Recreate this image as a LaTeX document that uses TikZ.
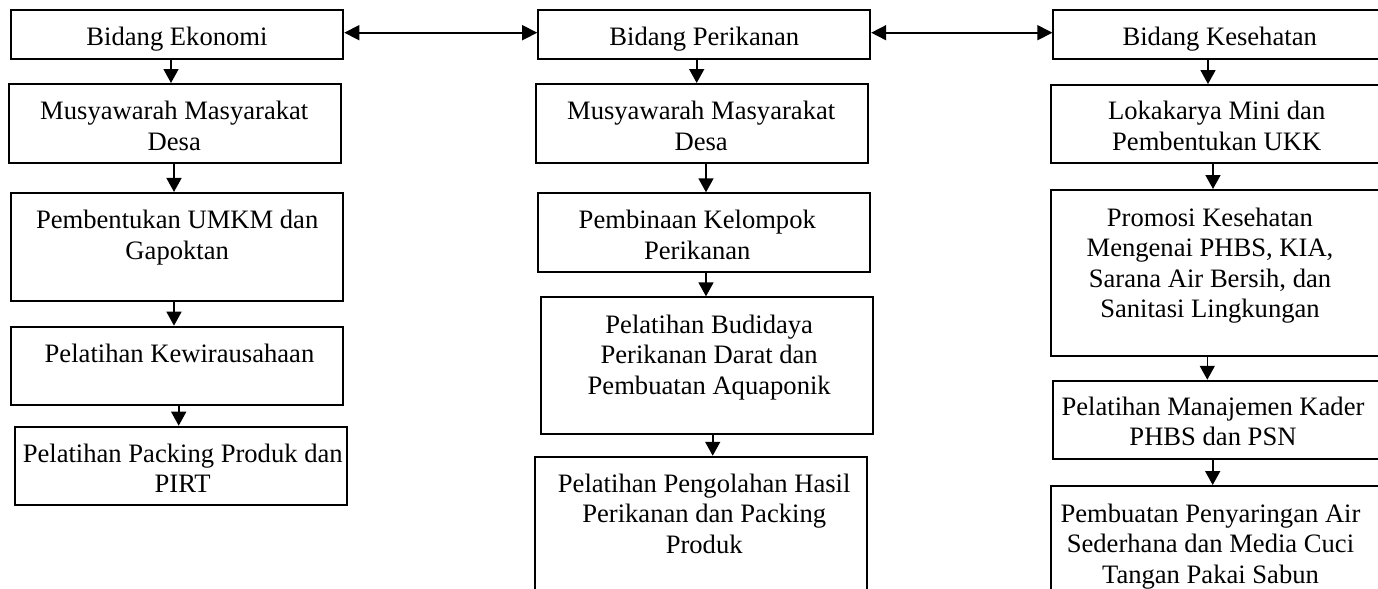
\documentclass[tikz,border=0pt]{standalone}
\usepackage{fontspec}
\setmainfont{Liberation Serif}
\usetikzlibrary{arrows.meta}
\begin{document}
\begin{tikzpicture}[x=0.5pt,y=-0.5pt,
  box/.style={draw=black, line width=1pt, inner sep=0pt, minimum width=166pt},
  txt/.style={anchor=north, inner sep=0pt, align=center, font=\fontsize{13.3}{15.25}\selectfont},
  arr/.style={line width=0.8pt, -{Triangle[length=7pt,width=7.5pt]}},
  darr/.style={line width=0.8pt, {Triangle[length=7.5pt,width=7.5pt]}-{Triangle[length=7.5pt,width=7.5pt]}}]
\useasboundingbox (0,0) rectangle (1378,589);
% left column
\node[box, minimum height=24.5pt] (e1) at (177.3,34.5) {};
\node[box, minimum height=39.5pt] (e2) at (174.7,123.5) {};
\node[box, minimum height=53.85pt] (e3) at (177.3,246.8) {};
\node[box, minimum height=39.15pt] (e4) at (177.3,365.8) {};
\node[box, minimum height=39.3pt] (e5) at (180.5,466) {};
\node[txt] (e1t) at (177,23.65) {\strut Bidang Ekonomi};
\node[txt] (e2t) at (174.3,97.95) {\strut Musyawarah Masyarakat\\Desa};
\node[txt] (e3t) at (177.2,206.95) {\strut Pembentukan UMKM dan\\Gapoktan};
\node[txt] (e4t) at (179.5,340.35) {\strut Pelatihan Kewirausahaan};
\node[txt] (e5t) at (182.7,440.35) {\strut Pelatihan Packing Produk dan\\PIRT};
% middle column
\node[box, minimum height=24.5pt] (p1) at (704.2,34.5) {};
\node[box, minimum height=39.5pt] (p2) at (701.7,123.5) {};
\node[box, minimum height=39.2pt] (p3) at (704.2,232.5) {};
\node[box, minimum height=68.35pt] (p4) at (707.2,365.7) {};
\node[box, minimum height=71.65pt] (p5) at (701.3,528.4) {};
\node[txt] (p1t) at (704.3,23.65) {\strut Bidang Perikanan};
\node[txt] (p2t) at (701.2,97.95) {\strut Musyawarah Masyarakat\\Desa};
\node[txt] (p3t) at (697.3,206.95) {\strut Pembinaan Kelompok\\Perikanan};
\node[txt] (p4t) at (709.2,311.35) {\strut Pelatihan Budidaya\\Perikanan Darat dan\\Pembuatan Aquaponik};
\node[txt] (p5t) at (704.2,470.35) {\strut Pelatihan Pengolahan Hasil\\Perikanan dan Packing\\Produk};
% right column
\node[box, minimum height=24.5pt] (k1) at (1219.4,34.5) {};
\node[box, minimum height=39.15pt] (k2) at (1216.9,124.2) {};
\node[box, minimum height=83pt] (k3) at (1216.9,273) {};
\node[box, minimum height=39.15pt] (k4) at (1219.4,419.9) {};
\node[box, minimum height=57pt] (k5) at (1216.9,543) {};
\node[txt] (k1t) at (1219.7,23.65) {\strut Bidang Kesehatan};
\node[txt] (k2t) at (1216.7,97.95) {\strut Lokakarya Mini dan\\Pembentukan UKK};
\node[txt] (k3t) at (1210,204.65) {\strut Promosi Kesehatan\\Mengenai PHBS, KIA,\\Sarana Air Bersih, dan\\Sanitasi Lingkungan};
\node[txt] (k4t) at (1213,393.65) {\strut Pelatihan Manajemen Kader\\PHBS dan PSN};
\node[txt] (k5t) at (1210.5,500.35) {\strut Pembuatan Penyaringan Air\\Sederhana dan Media Cuci\\Tangan Pakai Sabun};
% horizontal connectors
\draw[darr] ([yshift=0.9pt]e1.east) -- ([yshift=0.9pt]e1.east -| p1.west);
\draw[darr] ([yshift=0.9pt]p1.east) -- ([yshift=0.9pt]p1.east -| k1.west);
% vertical connectors
\draw[arr] ([xshift=-3.15pt]e1.south) -- ([xshift=-3.15pt]e1.south |- e2.north);
\draw[arr] ([xshift=-0.35pt]e2.south) -- ([xshift=-0.35pt]e2.south |- e3.north);
\draw[arr] ([xshift=-1.65pt]e3.south) -- ([xshift=-1.65pt]e3.south |- e4.north);
\draw[arr] ([xshift=0.7pt]e4.south) -- ([xshift=0.7pt]e4.south |- e5.north);
\draw[arr] ([xshift=-3.75pt]p1.south) -- ([xshift=-3.75pt]p1.south |- p2.north);
\draw[arr] ([xshift=2.15pt]p2.south) -- ([xshift=2.15pt]p2.south |- p3.north);
\draw[arr] ([xshift=0.9pt]p3.south) -- ([xshift=0.9pt]p3.south |- p4.north);
\draw[arr] ([xshift=2.75pt]p4.south) -- ([xshift=2.75pt]p4.south |- p5.north);
\draw[arr] ([xshift=-5.7pt]k1.south) -- ([xshift=-5.7pt]k1.south |- k2.north);
\draw[arr] ([xshift=-1.95pt]k2.south) -- ([xshift=-1.95pt]k2.south |- k3.north);
\draw[arr] ([xshift=-4.8pt]k3.south) -- ([xshift=-4.8pt]k3.south |- k4.north);
\draw[arr] ([xshift=-3.35pt]k4.south) -- ([xshift=-3.35pt]k4.south |- k5.north);
\end{tikzpicture}
\end{document}
